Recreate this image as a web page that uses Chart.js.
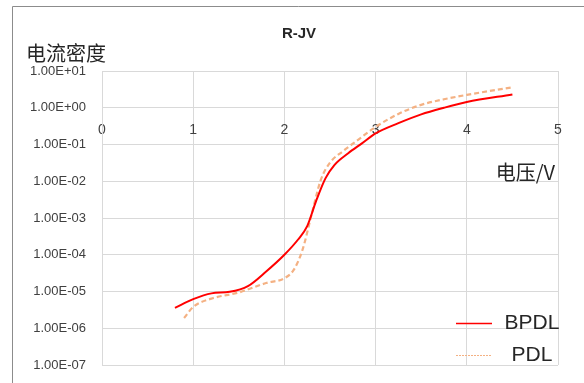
<!DOCTYPE html>
<html>
<head>
<meta charset="utf-8">
<title>R-JV</title>
<script src="https://cdn.jsdelivr.net/npm/chart.js@4.4.1/dist/chart.umd.min.js"></script>
<style>
  body { margin: 0; background: #fff; }
</style>
</head>
<body>
<canvas id="jv-chart" width="584" height="383"></canvas>
<script>
// R-JV curves (voltage in V, current density)
var bpdlVoltage = [0.80, 1.00, 1.20, 1.40, 1.60, 1.80, 2.00, 2.15, 2.25, 2.35, 2.45, 2.55, 2.70, 2.85, 3.00, 3.25, 3.50, 3.75, 4.00, 4.50];
var bpdlCurrent = [3.6e-6, 6.2e-6, 8.9e-6, 9.8e-6, 1.4e-5, 3.5e-5, 1.0e-4, 2.6e-4, 6.0e-4, 3.0e-3, 1.2e-2, 2.8e-2, 5.8e-2, 1.07e-1, 2.0e-1, 3.8e-1, 6.6e-1, 1.0, 1.43, 2.3];

var pdlVoltage = [0.90, 1.00, 1.20, 1.50, 1.80, 2.00, 2.10, 2.20, 2.30, 2.40, 2.50, 2.65, 2.80, 3.00, 3.25, 3.50, 3.75, 4.00, 4.50];
var pdlCurrent = [1.9e-6, 3.8e-6, 6.4e-6, 9.4e-6, 1.7e-5, 2.3e-5, 3.8e-5, 1.4e-4, 1.3e-3, 1.1e-2, 3.2e-2, 6.8e-2, 1.3e-1, 3.0e-1, 6.8e-1, 1.2, 1.7, 2.24, 3.6];

var seriesNames = ['BPDL', 'PDL'];
var yTicks = [1e-7, 1e-6, 1e-5, 1e-4, 1e-3, 1e-2, 1e-1, 1e0, 1e1];
var yTickLabels = ['1.00E-07', '1.00E-06', '1.00E-05', '1.00E-04', '1.00E-03', '1.00E-02', '1.00E-01', '1.00E+00', '1.00E+01'];
var xTicks = [0, 1, 2, 3, 4, 5];

function toPoints(xs, ys) {
  return xs.map(function(x, i) { return { x: x, y: ys[i] }; });
}

var gridColor = '#d9d9d9';
var font = '"Liberation Sans", "Noto Sans CJK SC", sans-serif';

// title, axis titles, legend and the outer frame
var decorations = {
  id: 'decorations',
  beforeDraw: function(chart) {
    var c = chart.ctx;
    c.save();
    c.fillStyle = '#fff';
    c.fillRect(0, 0, chart.width, chart.height);
    c.strokeStyle = '#8c8c8c';
    c.lineWidth = 1;
    c.beginPath();
    c.moveTo(12.5, chart.height);
    c.lineTo(12.5, 6.5);
    c.lineTo(chart.width, 6.5);
    c.stroke();
    c.restore();
  },
  afterDraw: function(chart) {
    var c = chart.ctx;
    c.save();
    c.textBaseline = 'middle';

    c.fillStyle = '#262626';
    c.font = 'bold 15px ' + font;
    c.textAlign = 'center';
    c.fillText('R-JV', 299, 34);

    c.fillStyle = '#262626';
    c.font = '20px "Noto Sans CJK SC", sans-serif';
    c.textAlign = 'left';
    c.fillText('电流密度', 26, 53);
    c.textAlign = 'right';
    c.fillText('电压/V', 555, 172);

    // legend
    var items = [
      { y: 323.5, ds: chart.data.datasets[0], dash: [], w: 1.5 },
      { y: 355.5, ds: chart.data.datasets[1], dash: [2, 1], w: 1 }
    ];
    c.font = '21px ' + font;
    c.textAlign = 'center';
    items.forEach(function(it) {
      c.strokeStyle = it.ds.borderColor;
      c.lineWidth = it.w;
      c.setLineDash(it.dash);
      c.beginPath();
      c.moveTo(456, it.y);
      c.lineTo(492, it.y);
      c.stroke();
      c.fillStyle = '#262626';
      c.fillText(it.ds.label, 532, it.y);
    });
    c.restore();
  }
};

var ctx = document.getElementById('jv-chart').getContext('2d');
var myChart = new Chart(ctx, {
  type: 'line',
  data: {
    datasets: [{
      label: seriesNames[0],
      data: toPoints(bpdlVoltage, bpdlCurrent),
      borderColor: '#ff0000',
      borderWidth: 2,
      pointRadius: 0,
      cubicInterpolationMode: 'monotone',
      fill: false
    }, {
      label: seriesNames[1],
      data: toPoints(pdlVoltage, pdlCurrent),
      borderColor: '#f4b183',
      borderWidth: 2.2,
      borderDash: [5, 3],
      pointRadius: 0,
      cubicInterpolationMode: 'monotone',
      fill: false
    }]
  },
  options: {
    responsive: false,
    animation: false,
    layout: { padding: { left: 0, top: 71, right: 26, bottom: 18 } },
    plugins: {
      legend: { display: false },
      title: { display: false },
      tooltip: { enabled: false }
    },
    scales: {
      x: {
        type: 'linear',
        position: { y: 1 },
        min: 0,
        max: 5,
        afterBuildTicks: function(scale) {
          scale.ticks = xTicks.map(function(v) { return { value: v }; });
        },
        ticks: {
          color: '#404040',
          font: { family: font, size: 14 },
          padding: 14
        },
        grid: { color: gridColor, drawTicks: false },
        border: { color: gridColor }
      },
      y: {
        type: 'logarithmic',
        min: 1e-7,
        max: 10,
        afterBuildTicks: function(scale) {
          scale.ticks = yTicks.map(function(v) { return { value: v }; });
        },
        afterFit: function(scale) {
          scale.width = 102;
          scale.paddingTop = 0;
          scale.paddingBottom = 0;
        },
        ticks: {
          color: '#404040',
          font: { family: font, size: 13 },
          padding: 16,
          callback: function(value) {
            var i = yTicks.indexOf(value);
            return i >= 0 ? yTickLabels[i] : '';
          }
        },
        grid: { color: gridColor, drawTicks: false },
        border: { color: gridColor }
      }
    }
  },
  plugins: [decorations]
});
</script>
</body>
</html>
